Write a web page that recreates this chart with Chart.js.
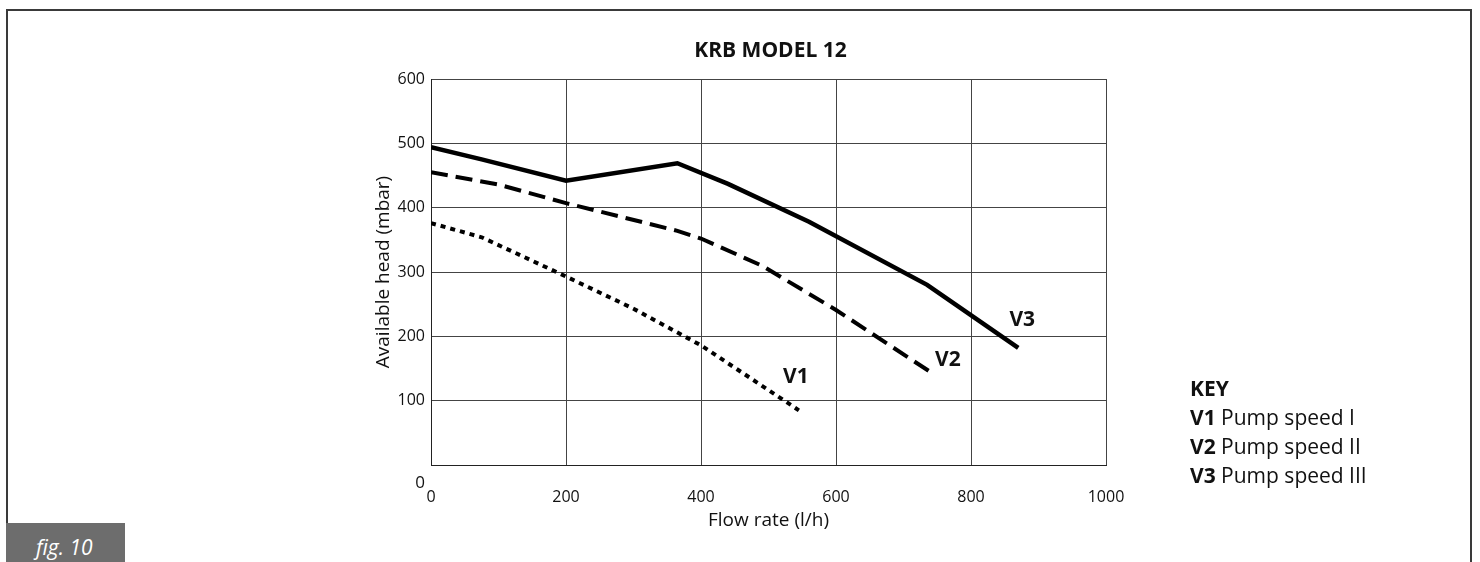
<!DOCTYPE html>
<html lang="en">
<head>
  <meta charset="UTF-8">
  <title>KRB Model 12</title>
  <style>
    body {
      margin: 0;
      width: 1480px;
      height: 562px;
      overflow: hidden;
      background: #fff;
      font-family: 'Open Sans', sans-serif;
      color: #111;
    }
    .frame {
      position: absolute;
      left: 6px;
      top: 9px;
      width: 1466px;
      height: 560px;
      border: 2px solid #3a3a3a;
      border-bottom: none;
      box-sizing: border-box;
    }
    .fig {
      position: absolute;
      left: 6px;
      top: 523px;
      width: 119px;
      height: 39px;
      background: #6d6d6d;
      color: #fff;
      font-style: italic;
      font-size: 21px;
      line-height: 48px;
      padding-left: 30px;
      box-sizing: border-box;
    }
    .key {
      position: absolute;
      left: 1190px;
      top: 374px;
      font-size: 21px;
      line-height: 29px;
    }
    .key b { font-weight: 700; }
    canvas { position: absolute; left: 0; top: 0; }
  </style>
  <script src="https://cdn.jsdelivr.net/npm/chart.js"></script>
</head>
<body>
  <div class="frame"></div>
  <canvas id="chart" width="1480" height="562"></canvas>
  <div class="key">
    <div><b>KEY</b></div>
    <div><b>V1</b> Pump speed I</div>
    <div><b>V2</b> Pump speed II</div>
    <div><b>V3</b> Pump speed III</div>
  </div>
  <div class="fig">fig. 10</div>

  <script>
    // values (flow l/h, head mbar)
    const seriesNames = ['V1', 'V2', 'V3'];
    const v1Flow = [0, 75, 200, 300, 400, 515, 545];
    const v1Head = [376, 354, 293, 243, 186, 106, 85];
    const v2Flow = [0, 100, 200, 365, 400, 490, 600, 745];
    const v2Head = [455, 436, 407, 364, 352, 310, 241, 141];
    const v3Flow = [0, 75, 200, 365, 440, 560, 735, 870];
    const v3Head = [494, 475, 442, 469, 437, 378, 280, 182];
    const xTicks = [0, 200, 400, 600, 800, 1000];
    const yTicks = [0, 100, 200, 300, 400, 500, 600];
    const chartTitle = 'KRB MODEL 12';

    const FONT = "'Open Sans', sans-serif";

    function pts(xs, ys) {
      return xs.map((x, i) => ({ x: x, y: ys[i] }));
    }

    // label offsets from each curve's last point
    const labelOffsets = [[-3, -33], [14, -14], [4, -28]];

    const extras = {
      id: 'extras',
      afterDatasetsDraw(chart) {
        const ctx = chart.ctx;
        const area = chart.chartArea;
        ctx.save();
        ctx.fillStyle = '#111';
        ctx.textAlign = 'center';
        ctx.textBaseline = 'middle';

        // title centred over the plot area
        ctx.font = 'bold 21px ' + FONT;
        ctx.fillText(chartTitle, (area.left + area.right) / 2 + 2, area.top - 28);

        ctx.font = 'bold 21px ' + FONT;
        chart.data.datasets.forEach((ds, i) => {
          const meta = chart.getDatasetMeta(i);
          const last = meta.data[meta.data.length - 1];
          ctx.fillText(ds.label, last.x + labelOffsets[i][0], last.y + labelOffsets[i][1]);
        });

        // the zero on the head axis sits below the corner
        const y = chart.scales.y;
        ctx.font = '17px ' + FONT;
        ctx.textAlign = 'right';
        ctx.fillText(String(yTicks[0]), area.left - 6, y.getPixelForValue(0) + 18);
        ctx.restore();
      }
    };

    new Chart(document.getElementById('chart'), {
      type: 'line',
      data: {
        datasets: [
          {
            label: seriesNames[0],
            data: pts(v1Flow, v1Head),
            borderColor: '#000',
            borderWidth: 4,
            borderDash: [5, 5],
            pointRadius: 0,
            fill: false
          },
          {
            label: seriesNames[1],
            data: pts(v2Flow, v2Head),
            borderColor: '#000',
            borderWidth: 4,
            borderDash: [17, 8],
            pointRadius: 0,
            fill: false
          },
          {
            label: seriesNames[2],
            data: pts(v3Flow, v3Head),
            borderColor: '#000',
            borderWidth: 4.5,
            pointRadius: 0,
            fill: false
          }
        ]
      },
      options: {
        responsive: false,
        animation: false,
        layout: { padding: { left: 372, right: 374, top: 79, bottom: 30 } },
        plugins: {
          legend: { display: false },
          tooltip: { enabled: false },
          title: { display: false }
        },
        scales: {
          x: {
            type: 'linear',
            min: 0,
            max: 1000,
            afterBuildTicks: s => { s.ticks = xTicks.map(v => ({ value: v })); },
            afterFit: s => { s.height = 67; },
            grid: { color: '#444', lineWidth: 1, drawTicks: false },
            border: { color: '#222', width: 1 },
            ticks: {
              color: '#111',
              font: { family: FONT, size: 16 },
              padding: 23,
              maxRotation: 0,
              callback: v => String(v)
            },
            title: { display: true, text: 'Flow rate (l/h)', color: '#111', font: { family: FONT, size: 19 }, padding: 0 }
          },
          y: {
            min: 0,
            max: 600,
            afterBuildTicks: s => { s.ticks = yTicks.map(v => ({ value: v })); },
            afterFit: s => { s.width = 59; },
            grid: { color: '#444', lineWidth: 1, drawTicks: false },
            border: { color: '#222', width: 1 },
            ticks: {
              color: '#111',
              font: { family: FONT, size: 16 },
              padding: 6,
              callback: v => (v === 0 ? '' : String(v))
            },
            title: { display: true, text: 'Available head (mbar)', color: '#111', font: { family: FONT, size: 19 }, padding: 0 }
          }
        }
      },
      plugins: [extras]
    });
  </script>
</body>
</html>
